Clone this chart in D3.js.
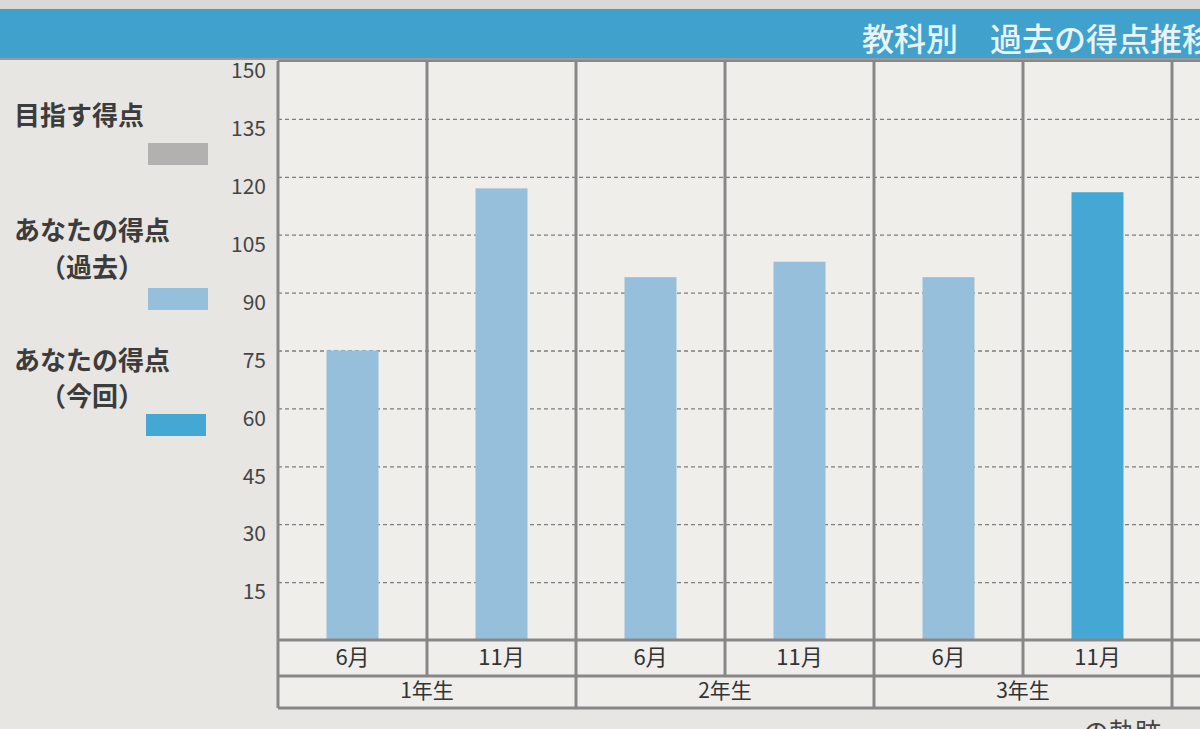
<!DOCTYPE html>
<html><head><meta charset="utf-8">
<script src="https://cdn.jsdelivr.net/npm/d3@7"></script>
<style>
html,body{margin:0;padding:0;background:#e9e8e5;overflow:hidden;}
text{font-family:"Noto Sans CJK JP","Noto Sans",sans-serif;}
</style></head>
<body>
<svg id="c" width="1200" height="729"></svg>
<script>
// ---- data ----
const title = "教科別\u3000過去の得点推移";
const grades = ["1年生", "2年生", "3年生"];
const months = ["6月", "11月"];
const categories = [
  {grade: "1年生", month: "6月"}, {grade: "1年生", month: "11月"},
  {grade: "2年生", month: "6月"}, {grade: "2年生", month: "11月"},
  {grade: "3年生", month: "6月"}, {grade: "3年生", month: "11月"}
];
const scores = [75, 117, 94, 98, 94, 116];
const seriesOf = ["past", "past", "past", "past", "past", "current"];
const yTicks = [15, 30, 45, 60, 75, 90, 105, 120, 135, 150];
const legendItems = [
  {lines: ["目指す得点"], key: "target"},
  {lines: ["あなたの得点", "（過去）"], key: "past"},
  {lines: ["あなたの得点", "（今回）"], key: "current"}
];
const colors = {target: "#b3b1af", past: "#96bfdc", current: "#44a7d4"};

// ---- layout ----
const svg = d3.select("#c");
const W = 1200, H = 729;
const plotL = 278, plotT = 61, plotB = 640, colStep = 149;
const rowMonth = 676, rowYear = 708;
const plotR = plotL + colStep * categories.length;

// backgrounds
svg.append("rect").attr("x", 0).attr("y", 0).attr("width", W).attr("height", H).attr("fill", "#e7e6e3");
svg.append("rect").attr("x", plotL).attr("y", plotT).attr("width", W - plotL).attr("height", rowYear - plotT).attr("fill", "#efeeeb");
// header band
svg.append("rect").attr("x", 0).attr("y", 0).attr("width", W).attr("height", 9).attr("fill", "#d9d9d7");
svg.append("rect").attr("x", 0).attr("y", 9).attr("width", W).attr("height", 50).attr("fill", "#40a2cc");
svg.append("line").attr("x1", 0).attr("x2", W).attr("y1", 59).attr("y2", 59).attr("stroke", "#9a9a9a").attr("stroke-width", 2);
svg.append("text").attr("x", 862).attr("y", 51).attr("font-size", 32).attr("fill", "#eaf3f6")
  .attr("font-weight", 500).text(title);

// scales
const x = d3.scaleBand().domain(d3.range(categories.length)).range([plotL, plotR]).paddingInner(0).paddingOuter(0);
const y = d3.scaleLinear().domain([0, 150]).range([plotB, plotT]);

// dashed gridlines
const grid = svg.append("g").attr("transform", `translate(${plotL},0)`)
  .call(d3.axisLeft(y).tickValues(yTicks.filter(v => v < 150)).tickSize(-(W - plotL)).tickFormat(""));
grid.select(".domain").remove();
grid.selectAll("line").attr("stroke", "#7d7d7d").attr("stroke-width", 1.3).attr("stroke-dasharray", "4,3");

// y tick labels
const yAx = svg.append("g").attr("transform", `translate(266,0)`)
  .call(d3.axisLeft(y).tickValues(yTicks).tickSize(0).tickPadding(0));
yAx.select(".domain").remove();
yAx.selectAll("text").attr("font-size", 21).attr("fill", "#454545")
  .attr("font-family", "'Noto Sans',sans-serif").attr("dy", "0.32em")
  .attr("transform", "translate(0,10)");

// bars
const barW = 52;
svg.append("g").selectAll("rect").data(scores).join("rect")
  .attr("x", (d, i) => x(i) + x.bandwidth() / 2 - barW / 2)
  .attr("y", d => y(d))
  .attr("width", barW)
  .attr("height", d => plotB - y(d))
  .attr("fill", (d, i) => colors[seriesOf[i]]);

// frame lines
const lineCol = "#878787";
const frame = svg.append("g").attr("stroke", lineCol).attr("stroke-width", 3);
frame.append("line").attr("x1", plotL).attr("x2", W).attr("y1", plotT).attr("y2", plotT).attr("stroke-width", 2);
[plotB, rowMonth, rowYear].forEach(yy =>
  frame.append("line").attr("x1", plotL).attr("x2", W).attr("y1", yy).attr("y2", yy));
d3.range(categories.length + 1).forEach(i => {
  const xx = i < categories.length ? x(i) : plotR;
  const isGroup = i % 2 === 0;
  frame.append("line").attr("x1", xx).attr("x2", xx).attr("y1", plotT)
    .attr("y2", isGroup ? rowYear : rowMonth);
});

// month labels
svg.append("g").selectAll("text").data(categories).join("text")
  .attr("x", (d, i) => x(i) + x.bandwidth() / 2)
  .attr("y", 657).attr("dy", "0.35em").attr("text-anchor", "middle")
  .attr("font-size", 22).attr("fill", "#333").text(d => d.month);
// grade labels
svg.append("g").selectAll("text").data(grades).join("text")
  .attr("x", (d, i) => x(i * 2) + x.bandwidth())
  .attr("y", 691).attr("dy", "0.35em").attr("text-anchor", "middle")
  .attr("font-size", 21).attr("fill", "#333").text(d => d);

// legend
const legY = [[116], [231, 268], [361, 397]];
const swY = [143, 288, 414];
const swX = [148, 148, 146];
legendItems.forEach((it, k) => {
  it.lines.forEach((ln, j) => {
    svg.append("text").attr("x", j === 0 ? 14 : 40).attr("y", legY[k][j]).attr("dy", "0.36em")
      .attr("font-size", 26).attr("font-weight", "bold").attr("fill", "#3c3c3c").text(ln);
  });
  svg.append("rect").attr("x", swX[k]).attr("y", swY[k]).attr("width", 60).attr("height", 22)
    .attr("fill", colors[it.key]);
});

// partially visible caption at bottom
svg.append("text").attr("x", 1083).attr("y", 742).attr("font-size", 26).attr("fill", "#444").text("の軌跡");
</script>
</body></html>
